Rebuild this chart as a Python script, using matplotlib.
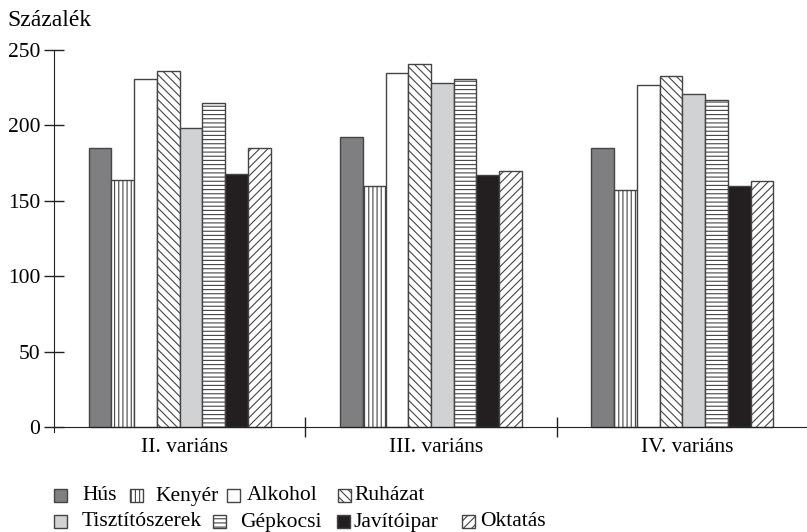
import matplotlib.pyplot as plt
from matplotlib.patches import Rectangle
from matplotlib.transforms import ScaledTranslation
import numpy as np

plt.rcParams['font.family'] = ['Liberation Serif', 'DejaVu Serif']
plt.rcParams['hatch.linewidth'] = 0.8

groups = ['II. variáns', 'III. variáns', 'IV. variáns']
series = ['Hús', 'Kenyér', 'Alkohol', 'Ruházat',
          'Tisztítószerek', 'Gépkocsi', 'Javítóipar', 'Oktatás']
values = {
    'Hús': [185, 192, 185],
    'Kenyér': [164, 160, 157],
    'Alkohol': [231, 235, 227],
    'Ruházat': [236, 241, 233],
    'Tisztítószerek': [198, 228, 221],
    'Gépkocsi': [215, 231, 217],
    'Javítóipar': [168, 167, 160],
    'Oktatás': [185, 170, 163],
}
colors = ['#7f7f81', 'white', 'white', 'white', '#d1d2d4', 'white', '#231f20', 'white']
hatches = [None, '||||', None, '\\\\\\\\', None, '----', None, '////']
edge = '#444444'

W, H = 807, 532
fig = plt.figure(figsize=(W / 100, H / 100), dpi=100)
# axes: x from 54 to 808 px, y from 427 (0) to 50 (250)
ax = fig.add_axes([54 / W, (H - 432.3) / H, 754 / W, 382.3 / H])

w = 0.0905
x = np.arange(len(groups)) + 0.5
for i, s in enumerate(series):
    ax.bar(x + (i - 3.5) * w, values[s], width=w, color=colors[i], hatch=hatches[i],
           edgecolor=edge, linewidth=1.0, zorder=2)

ax.set_xlim(0, 3)
ax.set_ylim(-3.5, 250)
ax.spines['top'].set_visible(False)
ax.spines['right'].set_visible(False)
ax.spines['bottom'].set_position(('data', 0))
ax.spines['left'].set_bounds(-3.5, 250)
ax.spines['left'].set_color('#222222')
ax.spines['bottom'].set_color('#222222')

ax.set_yticks([0, 50, 100, 150, 200, 250])
ax.tick_params(axis='y', direction='inout', length=14, width=1, labelsize=15.5, pad=3, color='#222222')
ax.set_xticks(x)
ax.set_xticklabels(groups)
ax.tick_params(axis='x', which='major', length=0, labelsize=15.5, pad=8)
for lbl in ax.get_xticklabels():
    lbl.set_transform(lbl.get_transform() + ScaledTranslation(5 / 100, 0, fig.dpi_scale_trans))
ax.set_xticks([1, 2], minor=True)
ax.tick_params(axis='x', which='minor', direction='inout', length=14, width=1, color='#222222')

fig.text(7 / W, 1 - 20 / H, 'Százalék', fontsize=17, va='center', ha='left')

# legend, two rows laid out by hand
sq_x = [54, 130, 227, 338, 54, 213, 337, 462]
tx_x = [82, 155, 247, 354, 82, 240, 353, 480]
row_y = [495, 521]
sq = 13
for i, s in enumerate(series):
    cy = row_y[i // 4]
    fig.patches.append(Rectangle(((sq_x[i]) / W, 1 - (cy + sq / 2) / H), sq / W, sq / H,
                                 transform=fig.transFigure, facecolor=colors[i], hatch=hatches[i],
                                 edgecolor=edge, linewidth=1.0))
    fig.text(tx_x[i] / W, 1 - (cy + 1) / H, s, fontsize=15.5, va='center', ha='left')

fig.savefig('out.png', dpi=100)
